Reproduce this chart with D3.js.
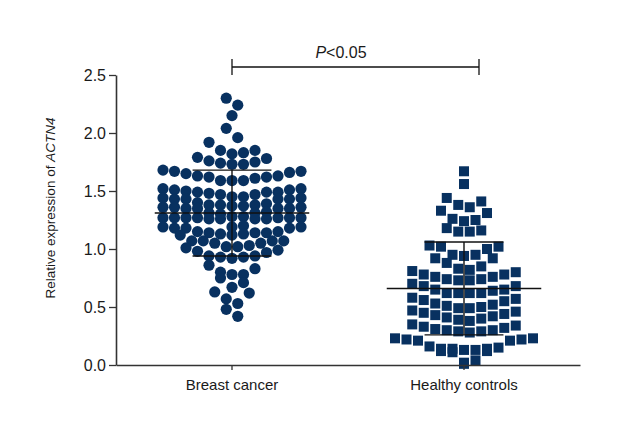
<!DOCTYPE html>
<html><head><meta charset="utf-8">
<script src="https://cdn.jsdelivr.net/npm/d3@7"></script>
<style>
body{margin:0;background:#fff}
svg{display:block}
text{font-family:"Liberation Sans",Arial,sans-serif;fill:#1a1a1a}
</style>
</head><body>
<svg id="chart" width="620" height="440"></svg>
<script>
// ---- data ----
const categories = ["Breast cancer", "Healthy controls"];

const breastCancer = [
  2.30, 2.24, 2.15, 2.04, 1.96, 1.92, 1.85, 1.85, 1.83, 1.82, 1.79, 1.78, 1.76, 1.75, 1.74, 1.73, 1.73,
  1.68, 1.67, 1.67, 1.66, 1.65, 1.63, 1.63, 1.62, 1.62, 1.61, 1.59, 1.59, 1.59,
  1.52, 1.52, 1.51, 1.51, 1.50, 1.49, 1.49, 1.49, 1.48, 1.47, 1.47,
  1.45, 1.45, 1.44, 1.44, 1.43, 1.43, 1.43, 1.43, 1.40,
  1.39, 1.38, 1.38, 1.38, 1.37, 1.37, 1.36, 1.36, 1.36, 1.35, 1.35, 1.35, 1.35,
  1.32, 1.31, 1.31, 1.30,
  1.28, 1.28, 1.27, 1.27, 1.27, 1.27, 1.27, 1.27, 1.27, 1.26, 1.26, 1.26, 1.26,
  1.20, 1.19, 1.19, 1.19, 1.18, 1.18, 1.18,
  1.15, 1.15, 1.14, 1.14, 1.14, 1.13, 1.13, 1.12, 1.12,
  1.07, 1.07, 1.07, 1.07, 1.05, 1.05, 1.03, 1.02, 1.02, 1.01,
  0.99, 0.98, 0.97, 0.94, 0.94, 0.93, 0.93, 0.92,
  0.86, 0.83, 0.80, 0.78, 0.78, 0.75, 0.71, 0.67, 0.63, 0.62, 0.57, 0.53, 0.48, 0.42
];

const healthyControls = [
  1.67, 1.56, 1.44, 1.41, 1.38, 1.36, 1.33, 1.31, 1.26, 1.25, 1.24, 1.18, 1.16, 1.15, 1.15,
  1.03, 1.02, 1.02, 1.00, 0.95, 0.95, 0.94, 0.92, 0.92, 0.88, 0.85,
  0.83, 0.82, 0.81, 0.80, 0.78, 0.78, 0.76, 0.76, 0.74, 0.74, 0.73, 0.73,
  0.70, 0.68, 0.68, 0.65, 0.65, 0.64, 0.62, 0.62, 0.62, 0.62,
  0.58, 0.57, 0.56, 0.55, 0.53, 0.52, 0.51, 0.50, 0.49, 0.49,
  0.47, 0.46, 0.45, 0.44, 0.43, 0.42, 0.41, 0.40, 0.39, 0.38,
  0.35, 0.34, 0.33, 0.32, 0.31, 0.30, 0.30, 0.29, 0.29, 0.28,
  0.23, 0.23, 0.22, 0.22, 0.21, 0.21,
  0.16, 0.15, 0.14, 0.14, 0.14, 0.13, 0.13, 0.12, 0.12, 0.11,
  0.04, 0.02, 0.01
];

const meanValues = [1.31, 0.66];
const sdValues = [0.37, 0.40];
const yTicks = [0, 0.5, 1.0, 1.5, 2.0, 2.5];
const pLabel = "P<0.05";

// ---- chart ----
const svg = d3.select("#chart");
const x = d3.scaleBand().domain(categories).range([116, 580]).padding(0);
const y = d3.scaleLinear().domain([0, 2.5]).range([365, 75]);
const cx = c => x(c) + x.bandwidth() / 2;
const color = "#083160";
const step = 11.5;

// Prism-like scatter-dot layout: rows of similar values spread symmetrically
function layout(vals, span, maxN) {
  const sorted = vals.slice().sort((a, b) => b - a);
  const rows = [];
  let cur = [];
  sorted.forEach(v => {
    if (cur.length && (cur[0] - v > span || cur.length >= maxN)) { rows.push(cur); cur = []; }
    cur.push(v);
  });
  if (cur.length) rows.push(cur);
  const out = [];
  rows.forEach(r => {
    const n = r.length;
    const offs = d3.range(n).map(i => i - (n - 1) / 2)
      .sort((a, b) => Math.abs(a) - Math.abs(b) || b - a);
    const asc = r.slice().sort((a, b) => a - b);
    asc.forEach((v, i) => out.push({ v, dx: offs[i] * step }));
  });
  return out;
}

const pts0 = layout(breastCancer, 0.1005, 13);
const pts1 = layout(healthyControls, 0.1005, 13);

svg.append("g").selectAll("circle").data(pts0).join("circle")
  .attr("cx", d => cx(categories[0]) + d.dx)
  .attr("cy", d => y(d.v))
  .attr("r", 5.6)
  .attr("fill", color);

const sq = 10;
svg.append("g").selectAll("rect").data(pts1).join("rect")
  .attr("x", d => cx(categories[1]) + d.dx - sq / 2)
  .attr("y", d => y(d.v) - sq / 2)
  .attr("width", sq).attr("height", sq)
  .attr("fill", color);

// mean ± SD lines
const bw = x.bandwidth();
categories.forEach((c, i) => {
  const g = svg.append("g").attr("stroke", "#111").attr("stroke-width", 1.4);
  const m = meanValues[i], s = sdValues[i], c0 = cx(c);
  g.append("line").attr("x1", c0 - bw * 0.333).attr("x2", c0 + bw * 0.333)
    .attr("y1", y(m)).attr("y2", y(m));
  [m + s, m - s].forEach(v => {
    g.append("line").attr("x1", c0 - bw * 0.17).attr("x2", c0 + bw * 0.17)
      .attr("y1", y(v)).attr("y2", y(v));
  });
  g.append("line").attr("x1", c0).attr("x2", c0).attr("y1", y(m + s)).attr("y2", y(m - s));
});

// axes
const yAxis = svg.append("g").attr("transform", "translate(116,0)")
  .call(d3.axisLeft(y).tickValues(yTicks).tickFormat(d3.format(".1f")).tickSize(7).tickSizeOuter(0).tickPadding(3));
yAxis.selectAll("text").style("font-size", "16px");
const xAxis = svg.append("g").attr("transform", "translate(0,365)")
  .call(d3.axisBottom(x).tickSize(5).tickSizeOuter(0).tickPadding(9));
xAxis.selectAll("text").style("font-size", "15px");
svg.selectAll(".domain").attr("stroke", "#333").attr("stroke-width", 1.6);
svg.selectAll(".tick line").attr("stroke", "#333").attr("stroke-width", 1.3);

// y title
const t = svg.append("text")
  .attr("transform", "translate(55,208) rotate(-90)")
  .attr("text-anchor", "middle").style("font-size", "13.5px");
t.append("tspan").text("Relative expression of ");
t.append("tspan").style("font-style", "italic").text("ACTN4");

// significance bracket
const bx0 = cx(categories[0]), bx1 = cx(categories[1]) + 15, by = 67;
const br = svg.append("g").attr("stroke", "#111").attr("stroke-width", 1.3);
br.append("line").attr("x1", bx0).attr("x2", bx1).attr("y1", by).attr("y2", by);
[bx0, bx1].forEach(xx => br.append("line").attr("x1", xx).attr("x2", xx).attr("y1", by - 8).attr("y2", by + 8));
const pt = svg.append("text").attr("x", (cx(categories[0]) + cx(categories[1])) / 2 - 7).attr("y", 58)
  .attr("text-anchor", "middle").style("font-size", "16px");
pt.append("tspan").style("font-style", "italic").text(pLabel.slice(0, 1));
pt.append("tspan").text(pLabel.slice(1));
</script>
</body></html>
